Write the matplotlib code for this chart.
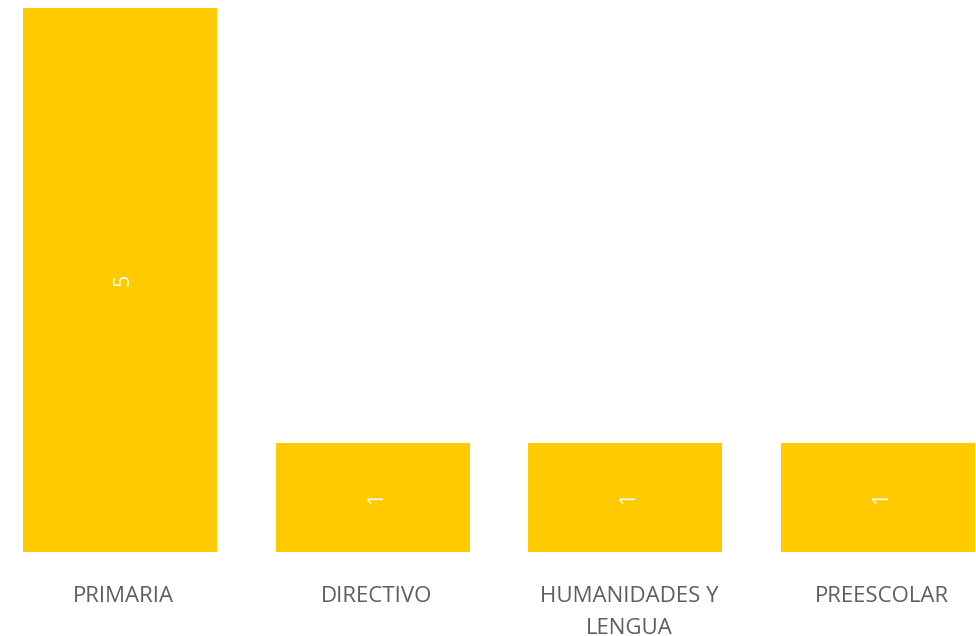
import matplotlib
matplotlib.use("Agg")
import matplotlib.pyplot as plt

categories = ["PRIMARIA", "DIRECTIVO", "HUMANIDADES Y\nLENGUA", "PREESCOLAR"]
counts = [5, 1, 1, 1]

bar_color = "#FFCA00"
label_color = "#605E5C"

plt.rcParams['font.family'] = ['Open Sans', 'DejaVu Sans']

W, H = 976, 636
fig = plt.figure(figsize=(W / 100, H / 100), dpi=100)
# axes spans the plot area: bars from y=552 (bottom) to y=8 (top of 5)
ax = fig.add_axes([0, (H - 552) / H, 1, (552 - 8) / H])

step = 252.67
x0 = 120
ax.set_xlim(-x0 / step, 3 + (W - 878) / step)
ax.set_ylim(0, 5)

xs = list(range(len(categories)))
bars = ax.bar(xs, counts, width=194 / step, color=bar_color, linewidth=0)

nudge = 3.5 / step  # labels sit a few px right of the bar centre
for b, v in zip(bars, counts):
    ax.text(b.get_x() + b.get_width() / 2 + nudge, v / 2, str(v), rotation=90,
            ha="center", va="center", color="white", fontsize=15.5)

for x, lab in zip(xs, categories):
    ax.text(x + nudge, -0.315, lab, ha="center", va="top", color=label_color,
            fontsize=16, linespacing=1.65)

ax.axis("off")
fig.savefig("out.png", dpi=100)
